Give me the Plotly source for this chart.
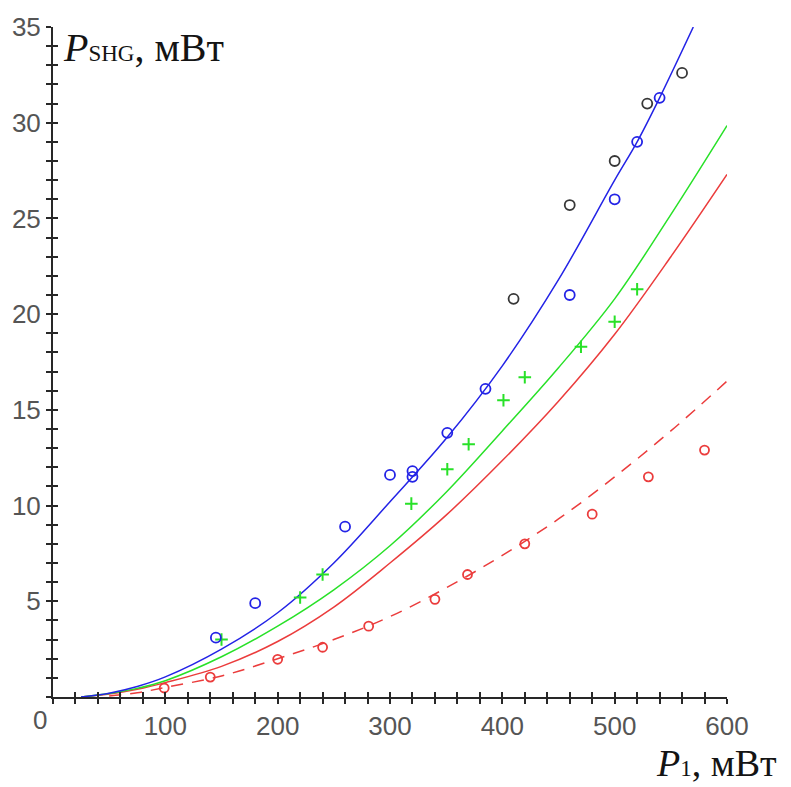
import plotly.graph_objects as go

# ---- data ----
# model curves (P1 in mW -> P_SHG in mW)
blue_line_x = [25, 50, 75, 100, 150, 200, 250, 300, 350, 400, 450, 500, 520, 540, 570]
blue_line_y = [0.0, 0.2, 0.55, 1.05, 2.5, 4.4, 7.0, 10.2, 13.5, 17.3, 21.8, 27.0, 29.0, 31.3, 35.0]

green_line_x = [25, 50, 75, 100, 150, 200, 250, 300, 350, 400, 450, 500, 550, 600]
green_line_y = [0.0, 0.18, 0.45, 0.85, 2.1, 3.7, 5.6, 7.9, 10.7, 13.9, 17.2, 20.8, 25.2, 29.85]

red_line_x = [25, 50, 75, 100, 150, 200, 250, 300, 350, 400, 450, 500, 550, 600]
red_line_y = [0.0, 0.15, 0.4, 0.75, 1.6, 2.9, 4.7, 7.0, 9.5, 12.35, 15.45, 18.95, 23.0, 27.3]

red_dash_x = [50, 75, 100, 150, 200, 250, 300, 350, 400, 450, 500, 550, 600]
red_dash_y = [0.05, 0.22, 0.5, 1.1, 2.0, 3.0, 4.2, 5.7, 7.4, 9.3, 11.5, 13.9, 16.5]

# measured points
blue_pts_x = [145, 180, 260, 300, 320, 320, 351, 385, 460, 500, 520, 540]
blue_pts_y = [3.1, 4.9, 8.9, 11.6, 11.8, 11.5, 13.8, 16.1, 21.0, 26.0, 29.0, 31.3]

black_pts_x = [410, 460, 500, 529, 560]
black_pts_y = [20.8, 25.7, 28.0, 31.0, 32.6]

green_pts_x = [150, 220, 240, 319, 351, 370, 401, 420, 470, 500, 520]
green_pts_y = [3.0, 5.2, 6.4, 10.1, 11.9, 13.2, 15.5, 16.7, 18.3, 19.6, 21.3]

red_pts_x = [99, 140, 200, 240, 281, 340, 369, 420, 480, 530, 580]
red_pts_y = [0.47, 1.04, 1.97, 2.6, 3.7, 5.1, 6.4, 8.0, 9.55, 11.5, 12.9]

x_ticks = [100, 200, 300, 400, 500, 600]
y_ticks = [5, 10, 15, 20, 25, 30, 35]

BLUE = "rgb(35,35,230)"
GREEN = "rgb(40,225,40)"
RED = "rgb(235,60,60)"
BLACK = "rgb(55,55,55)"
AX = "rgb(40,40,40)"
LAB = "rgb(85,85,85)"
SANS = "Liberation Sans, Arial, sans-serif"
SERIF = "Liberation Serif, Times New Roman, serif"
TICKSIZE = 26

fig = go.Figure()

def curve(x, y, color, dash="solid"):
    fig.add_trace(go.Scatter(x=x, y=y, mode="lines",
                             line=dict(color=color, width=1.5, dash=dash, shape="spline", smoothing=1.0),
                             showlegend=False))

curve(red_dash_x, red_dash_y, RED, "12px,9px")
curve(red_line_x, red_line_y, RED)
curve(green_line_x, green_line_y, GREEN)
curve(blue_line_x, blue_line_y, BLUE)

fig.add_trace(go.Scatter(x=red_pts_x, y=red_pts_y, mode="markers",
                         marker=dict(symbol="circle-open", size=9, color=RED, line=dict(width=1.8)),
                         showlegend=False))
fig.add_trace(go.Scatter(x=green_pts_x, y=green_pts_y, mode="markers",
                         marker=dict(symbol="cross-thin-open", size=9, color=GREEN, line=dict(width=2, color=GREEN)),
                         showlegend=False))
fig.add_trace(go.Scatter(x=black_pts_x, y=black_pts_y, mode="markers",
                         marker=dict(symbol="circle-open", size=10, color=BLACK, line=dict(width=1.8)),
                         showlegend=False))
fig.add_trace(go.Scatter(x=blue_pts_x, y=blue_pts_y, mode="markers",
                         marker=dict(symbol="circle-open", size=10, color=BLUE, line=dict(width=1.8)),
                         showlegend=False))

# dummy trace for overlay axes (inner halves of the crossing ticks)
fig.add_trace(go.Scatter(x=[None], y=[None], xaxis="x2", yaxis="y2", showlegend=False, hoverinfo="skip"))

axis_common = dict(showgrid=False, zeroline=False, showline=True, linecolor=AX, linewidth=2,
                   tickcolor=AX, tickwidth=1.5, ticklen=5)

fig.update_layout(
    width=791, height=787, autosize=False,
    margin=dict(l=50, r=64, t=23, b=90),
    paper_bgcolor="white", plot_bgcolor="white",
    xaxis=dict(range=[0, 600], tickmode="array", tickvals=x_ticks, ticks="outside",
               minor=dict(dtick=20, tick0=0, ticks="outside", ticklen=5, tickwidth=1.5, tickcolor=AX),
               tickfont=dict(family=SANS, size=TICKSIZE, color=LAB), **axis_common),
    yaxis=dict(range=[0, 35], tickmode="array", tickvals=y_ticks, ticks="outside",
               minor=dict(dtick=1, tick0=0, ticks="outside", ticklen=5, tickwidth=1.5, tickcolor=AX),
               tickfont=dict(family=SANS, size=TICKSIZE, color=LAB), **axis_common),
    xaxis2=dict(range=[0, 600], overlaying="x", anchor="y", side="bottom",
                tickmode="array", tickvals=x_ticks, ticks="inside", showticklabels=False,
                minor=dict(dtick=20, tick0=0, ticks="inside", ticklen=5, tickwidth=1.5, tickcolor=AX),
                **axis_common),
    yaxis2=dict(range=[0, 35], overlaying="y", anchor="x", side="left",
                tickmode="array", tickvals=y_ticks, ticks="inside", showticklabels=False,
                minor=dict(dtick=1, tick0=0, ticks="inside", ticklen=5, tickwidth=1.5, tickcolor=AX),
                **axis_common),
)

# pixel helpers for label placement (plot area: x 50..727, y 23..697)
pw = 791 - 50 - 64
ph = 787 - 23 - 90

def px(x):
    return (x - 50) / pw

def py(y):
    return (697 - y) / ph

fig.add_annotation(text="0", x=0, y=0, xref="x", yref="y", xanchor="center", yanchor="top",
                   xshift=-13, yshift=-6, showarrow=False,
                   font=dict(family=SANS, size=TICKSIZE, color=LAB))
fig.add_annotation(text="<i>P</i><span style='font-size:23px'>SHG</span>, мВт",
                   x=px(58), y=py(68), xref="paper", yref="paper", xanchor="left", yanchor="bottom",
                   showarrow=False, font=dict(family=SERIF, size=40, color="rgb(20,20,20)"))
fig.add_annotation(text="<i>P</i><span style='font-size:23px'>1</span>, мВт",
                   x=px(655), y=py(786), xref="paper", yref="paper", xanchor="left", yanchor="bottom",
                   borderpad=0, showarrow=False, font=dict(family=SERIF, size=38, color="rgb(20,20,20)"))

fig.write_html("out.html")
